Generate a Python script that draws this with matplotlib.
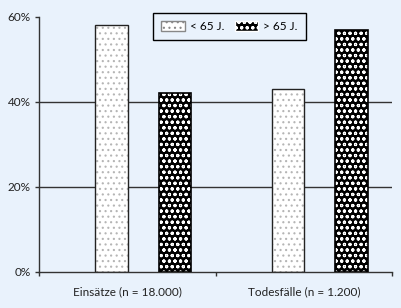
import numpy as np
import matplotlib.pyplot as plt
from matplotlib.patches import Patch
import matplotlib as mpl

categories = ["Einsätze (n = 18.000)", "Todesfälle (n = 1.200)"]
series_names = ["< 65 J.", "> 65 J."]
under_65 = [58, 43]
over_65 = [42, 57]
y_ticks = [0, 20, 40, 60]

bg = "#e9f2fc"
mpl.rcParams["font.family"] = ["Lato", "DejaVu Sans"]
mpl.rcParams["hatch.linewidth"] = 0.8

fig = plt.figure(figsize=(4.01, 3.08), dpi=100, facecolor=bg)
ax = fig.add_axes([0.097, 0.117, 0.881, 0.828], facecolor=bg)

x = np.arange(len(categories))
w = 0.185
left_pos = x + 0.41
right_pos = x + 0.77

for yv in y_ticks[1:3]:
    ax.axhline(yv, color="#333333", lw=1.0, zorder=1)

# light dotted bars
ax.bar(left_pos, under_65, w, facecolor="white", edgecolor="#b5b5b5",
       hatch="...", lw=0, zorder=2)
ax.bar(left_pos, under_65, w, facecolor="none", edgecolor="#222222",
       lw=1.0, zorder=3)
# dark bars with white dots
ax.bar(right_pos, over_65, w, facecolor="black", edgecolor="white",
       hatch="ooo", lw=0, zorder=2)
ax.bar(right_pos, over_65, w, facecolor="none", edgecolor="black",
       lw=1.2, zorder=3)

ax.set_xlim(0, 2)
ax.set_ylim(0, 60)
ax.set_yticks(y_ticks)
ax.set_yticklabels([f"{v}%" for v in y_ticks], fontsize=8.5, color="#222222")
ax.set_xticks([0, 1, 2])
ax.set_xticklabels([])
ax.set_xticks(x + 0.5, minor=True)
ax.set_xticklabels(categories, minor=True, fontsize=8.5, color="#222222")
ax.tick_params(axis="x", which="minor", length=0, pad=10)
ax.tick_params(axis="x", which="major", length=3, direction="out", width=1,
               color="#333333")
ax.tick_params(axis="y", length=3, width=1, color="#333333", pad=3)

for s in ["top", "right"]:
    ax.spines[s].set_visible(False)
for s in ["left", "bottom"]:
    ax.spines[s].set_color("#333333")
    ax.spines[s].set_linewidth(1.0)

handles = [
    Patch(facecolor="white", edgecolor="#888888", hatch="...", lw=1.0),
    Patch(facecolor="black", edgecolor="white", hatch="ooo", lw=1.0),
]
leg = fig.legend(handles, series_names, loc="upper left", ncol=2,
                 bbox_to_anchor=(0.382, 0.958), borderaxespad=0,
                 fontsize=8.5, frameon=True,
                 fancybox=False, edgecolor="black", facecolor=bg,
                 handlelength=2.0, handleheight=0.9, columnspacing=0.9,
                 handletextpad=0.4, borderpad=0.7, framealpha=1)
leg.get_frame().set_linewidth(1.0)

fig.savefig("out.png", dpi=100, facecolor=bg)
